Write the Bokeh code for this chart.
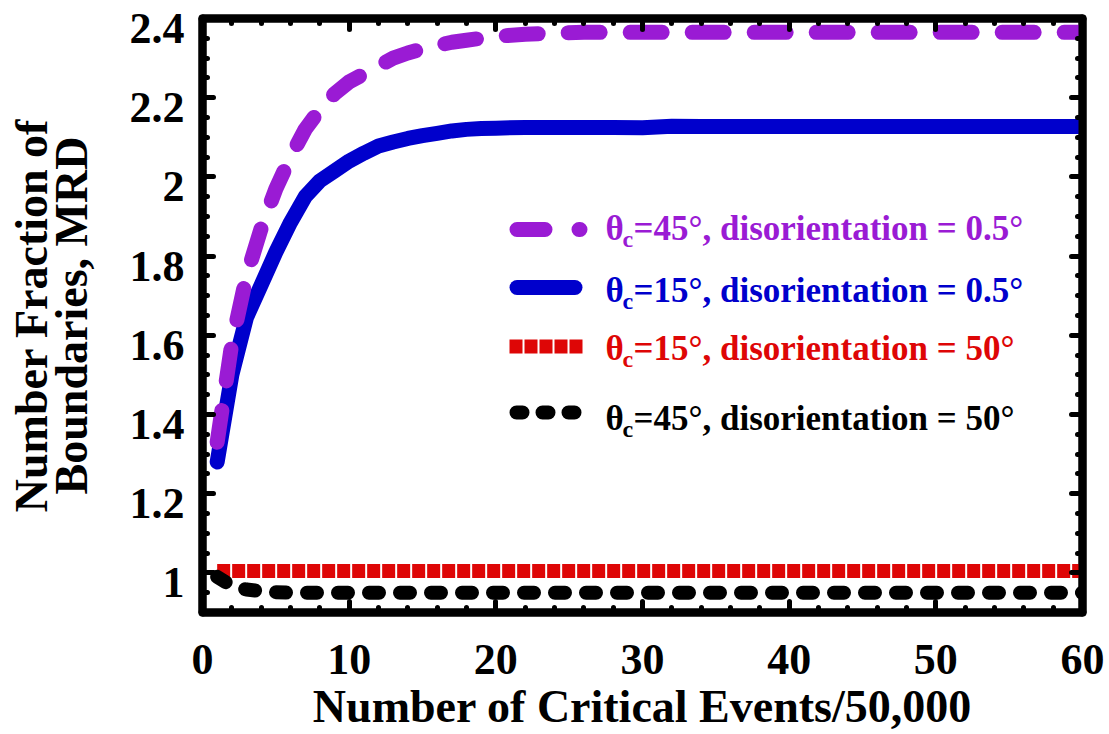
from bokeh.plotting import figure
from bokeh.models import (LinearAxis, FixedTicker, CustomJSTickFormatter, Range1d,
                          Label, Arrow)
from bokeh.embed import file_html
from bokeh.resources import INLINE

# ---------------- data ----------------
events = [1, 2, 3, 4, 5, 6, 7, 8, 9, 10, 11, 12, 13, 14, 15, 16, 17, 18, 19, 20,
          22, 24, 26, 28, 30, 32, 34, 36, 40, 45, 50, 55, 60]

# theta_c = 45 deg, disorientation = 0.5 deg
mrd_45_05 = [1.33, 1.58, 1.75, 1.87, 1.97, 2.05, 2.12, 2.17, 2.21, 2.24,
             2.26, 2.28, 2.30, 2.313, 2.323, 2.332, 2.34, 2.345, 2.35, 2.355,
             2.36, 2.363, 2.365, 2.365, 2.365, 2.365, 2.365, 2.365, 2.365, 2.365,
             2.365, 2.365, 2.365]
# theta_c = 15 deg, disorientation = 0.5 deg
mrd_15_05 = [1.28, 1.50, 1.645, 1.727, 1.81, 1.885, 1.95, 1.99, 2.015, 2.04,
             2.06, 2.078, 2.088, 2.097, 2.104, 2.11, 2.116, 2.12, 2.122, 2.123,
             2.125, 2.125, 2.125, 2.125, 2.124, 2.128, 2.127, 2.127, 2.127, 2.127,
             2.127, 2.127, 2.127]
# theta_c = 15 deg, disorientation = 50 deg
mrd_15_50 = [1.005, 1.005, 1.005, 1.005, 1.005, 1.005, 1.005, 1.005, 1.005, 1.005,
             1.005, 1.005, 1.005, 1.005, 1.005, 1.005, 1.005, 1.005, 1.005, 1.005,
             1.005, 1.005, 1.005, 1.005, 1.005, 1.005, 1.005, 1.005, 1.005, 1.005,
             1.005, 1.005, 1.005]
# theta_c = 45 deg, disorientation = 50 deg
mrd_45_50 = [0.99, 0.967, 0.958, 0.954, 0.951, 0.95, 0.95, 0.95, 0.95, 0.95,
             0.95, 0.95, 0.95, 0.95, 0.95, 0.95, 0.95, 0.95, 0.95, 0.95,
             0.95, 0.95, 0.95, 0.95, 0.95, 0.95, 0.95, 0.95, 0.95, 0.95,
             0.95, 0.95, 0.95]

x_ticks = [0, 10, 20, 30, 40, 50, 60]
x_minor = [0, 2, 4, 6, 8, 10, 12, 14, 16, 18, 20, 22, 24, 26, 28, 30, 32, 34, 36, 38,
           40, 42, 44, 46, 48, 50, 52, 54, 56, 58, 60]
y_ticks = [1.0, 1.2, 1.4, 1.6, 1.8, 2.0, 2.2, 2.4]
y_tick_labels = ["1", "1.2", "1.4", "1.6", "1.8", "2", "2.2", "2.4"]
y_minor = [0.9, 0.95, 1.0, 1.05, 1.1, 1.15, 1.2, 1.25, 1.3, 1.35, 1.4, 1.45, 1.5,
           1.55, 1.6, 1.65, 1.7, 1.75, 1.8, 1.85, 1.9, 1.95, 2.0, 2.05, 2.1, 2.15,
           2.2, 2.25, 2.3, 2.35, 2.4]

series_texts = ["=45°, disorientation = 0.5°",
                "=15°, disorientation = 0.5°",
                "=15°, disorientation = 50°",
                "=45°, disorientation = 50°"]

PURPLE = "#9A1BD4"
BLUE = "#0000CC"
RED = "#DE0606"
BLACK = "#000000"
FONT = "'Liberation Serif', 'Times New Roman', serif"

p = figure(width=1109, height=734, output_backend="svg", toolbar_location=None,
           x_range=Range1d(0, 60), y_range=Range1d(0.9, 2.4),
           min_border_left=202, min_border_right=27, min_border_top=18,
           min_border_bottom=122)
p.xgrid.visible = False
p.ygrid.visible = False
p.outline_line_color = "black"
p.outline_line_width = 8
p.background_fill_color = "white"
p.border_fill_color = "white"

# a copy of the y scale shifted by ~10 px, used only to set the tick numbers a bit
# below their ticks (as in the reference)
p.extra_y_ranges = {"lbl": Range1d(0.925, 2.425)}


def style_axis(ax):
    ax.axis_line_width = 8
    ax.axis_line_color = "black"
    ax.axis_line_cap = "round"
    ax.major_tick_in = 11
    ax.major_tick_out = 0
    ax.minor_tick_in = 5
    ax.minor_tick_out = 0
    ax.major_tick_line_width = 5
    ax.minor_tick_line_width = 5
    ax.major_tick_line_cap = "round"
    ax.minor_tick_line_cap = "round"
    ax.major_label_text_font = FONT
    ax.major_label_text_font_style = "bold"
    ax.major_label_text_font_size = "44px"
    ax.major_label_text_color = "black"
    ax.axis_label_text_font = FONT
    ax.axis_label_text_font_style = "bold"
    ax.axis_label_text_color = "black"


blank = CustomJSTickFormatter(code="return ''")

xa = p.xaxis[0]
xa.ticker = FixedTicker(ticks=x_ticks, minor_ticks=x_minor)
style_axis(xa)
xa.major_label_standoff = 32
xa.axis_label = "Number of Critical Events/50,000"
xa.axis_label_text_font_size = "46px"
xa.axis_label_standoff = 4

# left frame line with ticks (no numbers)
ya = p.yaxis[0]
ya.ticker = FixedTicker(ticks=y_ticks, minor_ticks=y_minor)
ya.formatter = blank
style_axis(ya)
ya.major_label_standoff = 0

# left tick numbers + axis title
yl = LinearAxis(y_range_name="lbl", ticker=FixedTicker(ticks=y_ticks, minor_ticks=[]))
style_axis(yl)
yl.axis_line_color = None
yl.major_tick_line_color = None
yl.minor_tick_line_color = None
yl.major_label_overrides = {v: s for v, s in zip(y_ticks, y_tick_labels)}
yl.major_label_standoff = 18
yl.axis_label = "Number Fraction of\nBoundaries, MRD"
yl.axis_label_text_font_size = "46px"
yl.axis_label_text_line_height = 0.78
yl.axis_label_standoff = 30
p.add_layout(yl, "left")

top = LinearAxis(ticker=FixedTicker(ticks=x_ticks, minor_ticks=x_minor), formatter=blank)
style_axis(top)
p.add_layout(top, "above")
right = LinearAxis(ticker=FixedTicker(ticks=y_ticks, minor_ticks=y_minor), formatter=blank)
style_axis(right)
p.add_layout(right, "right")

# ---------------- series ----------------
p.line(events, mrd_15_05, line_color=BLUE, line_width=15,
       line_cap="round", line_join="round")
p.line(events, mrd_45_05, line_color=PURPLE, line_width=15, line_dash="32 30",
       line_cap="round", line_join="round")
p.line(events, mrd_15_50, line_color=RED, line_width=14, line_dash="13 2",
       line_cap="butt", line_join="round")
p.line(events, mrd_45_50, line_color=BLACK, line_width=14, line_dash="10 21",
       line_cap="round", line_join="round")

# ---------------- legend (drawn by hand, screen units from frame bottom-left) ----
rows = [
    dict(color=PURPLE, dash="28 34", cap="round", w=15, x0=314.5, x1=377.5, ys=383, yb=384),
    dict(color=BLUE, dash="solid", cap="round", w=15, x0=314.5, x1=372.5, ys=325, yb=322),
    dict(color=RED, dash="13 2", cap="butt", w=14, x0=307, x1=380, ys=266, yb=264),
    dict(color=BLACK, dash="6 20", cap="round", w=14, x0=314, x1=373, ys=200, yb=194),
]
for r, txt in zip(rows, series_texts):
    p.add_layout(Arrow(x_start=r["x0"], y_start=r["ys"], x_end=r["x1"], y_end=r["ys"],
                       start_units="screen", end_units="screen", start=None, end=None,
                       line_color=r["color"], line_width=r["w"], line_dash=r["dash"],
                       line_cap=r["cap"]))
    common = dict(x_units="screen", y_units="screen", text_font=FONT,
                  text_font_style="bold", text_color=r["color"],
                  text_baseline="alphabetic", text_align="left")
    p.add_layout(Label(x=403, y=r["yb"], text="θ", text_font_size="35px", **common))
    p.add_layout(Label(x=420, y=r["yb"] - 10, text="c", text_font_size="24px", **common))
    p.add_layout(Label(x=431, y=r["yb"], text=txt, text_font_size="35px", **common))

open("out.html", "w").write(file_html(p, INLINE))
